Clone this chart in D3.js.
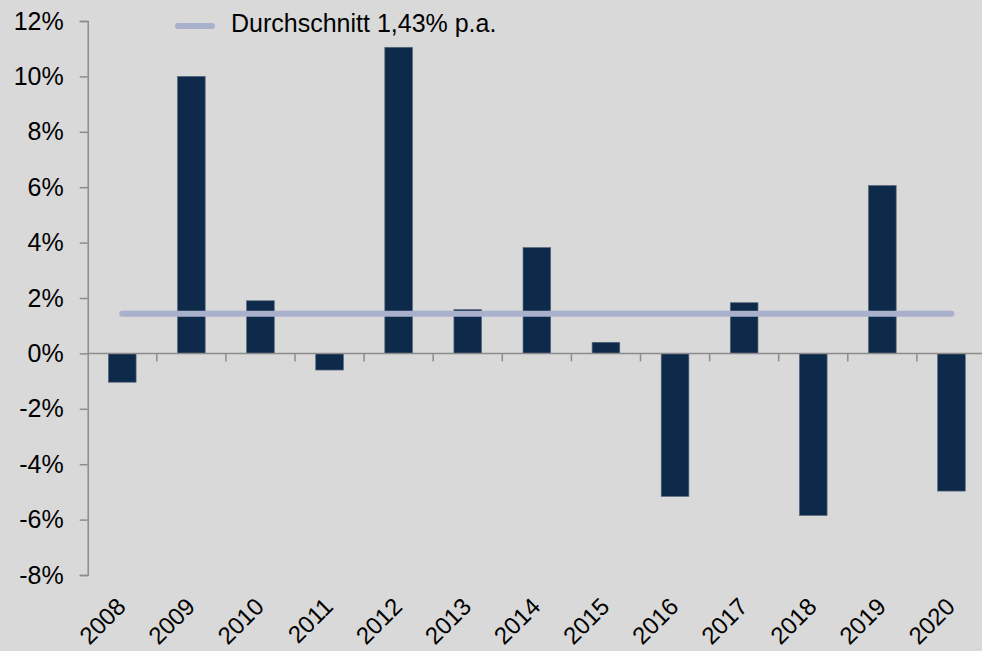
<!DOCTYPE html>
<html lang="de">
<head>
<meta charset="UTF-8">
<title>Rendite p.a.</title>
<script src="https://cdn.jsdelivr.net/npm/d3@7"></script>
<style>
  body { margin: 0; background: #d9d9d9; }
  svg { display: block; font-family: Arial, "Liberation Sans", sans-serif; }
</style>
</head>
<body>
<div id="chart"></div>
<script>
// Jahre und Renditen (in %)
var years = ["2008","2009","2010","2011","2012","2013","2014","2015","2016","2017","2018","2019","2020"];
var returns = [-1.04, 10.0, 1.9, -0.6, 11.05, 1.58, 3.82, 0.4, -5.16, 1.83, -5.85, 6.06, -4.97];
var average = 1.43;
var legendLabel = "Durchschnitt 1,43% p.a.";
var yTicks = [-8, -6, -4, -2, 0, 2, 4, 6, 8, 10, 12];

var W = 982, H = 651;
var barColor = "#0e2a4a", lineColor = "#a9b0cc", axisColor = "#8c8c8c";

var svg = d3.select("#chart").append("svg")
  .attr("width", W)
  .attr("height", H);

svg.append("rect").attr("width", W).attr("height", H).attr("fill", "#d9d9d9");

var x = d3.scaleBand()
  .domain(years)
  .range([87.7, 986])
  .paddingInner(0.6)
  .paddingOuter(0.3);

var y = d3.scaleLinear()
  .domain([-8, 12])
  .range([575, 21]);

// Balken
svg.append("g").selectAll("rect")
  .data(returns)
  .join("rect")
  .attr("x", function(d, i){ return x(years[i]); })
  .attr("y", function(d){ return y(Math.max(0, d)); })
  .attr("width", x.bandwidth())
  .attr("height", function(d){ return Math.abs(y(d) - y(0)); })
  .attr("fill", barColor)
  .attr("stroke", "#56667c")
  .attr("stroke-width", 0.7);

// y-Achse
var yAxis = d3.axisLeft(y)
  .tickValues(yTicks)
  .tickSize(8)
  .tickPadding(16)
  .tickFormat(function(d){ return d + "%"; });

var gy = svg.append("g")
  .attr("transform", "translate(87.7,0)")
  .call(yAxis);
gy.selectAll("path, line").attr("stroke", axisColor).attr("stroke-width", 1.5);
gy.selectAll("text").attr("font-size", 25).attr("fill", "#000");
gy.select(".domain").attr("fill", "none");

// Nulllinie mit Strichen zwischen den Jahren
var zero = svg.append("g");
zero.append("line")
  .attr("x1", 87.7).attr("x2", W)
  .attr("y1", y(0)).attr("y2", y(0))
  .attr("stroke", axisColor).attr("stroke-width", 1.5);
zero.selectAll("line.tick")
  .data(years.slice(1))
  .join("line")
  .attr("class", "tick")
  .attr("x1", function(d){ return x(d) - (x.step() - x.bandwidth()) / 2; })
  .attr("x2", function(d){ return x(d) - (x.step() - x.bandwidth()) / 2; })
  .attr("y1", y(0)).attr("y2", y(0) + 8)
  .attr("stroke", axisColor).attr("stroke-width", 1.5);

// Jahresbeschriftung unten
var gx = svg.append("g")
  .attr("transform", "translate(0," + y(-8) + ")")
  .call(d3.axisBottom(x).tickSize(0));
gx.select(".domain").remove();
gx.selectAll("text")
  .attr("font-size", 24)
  .attr("fill", "#000")
  .attr("text-anchor", "end")
  .attr("dy", null)
  .attr("y", null)
  .attr("transform", "translate(5,33) rotate(-45)");

// Durchschnittslinie
svg.append("line")
  .attr("x1", x(years[0]) + x.bandwidth() / 2)
  .attr("x2", x(years[years.length - 1]) + x.bandwidth() / 2)
  .attr("y1", y(average)).attr("y2", y(average))
  .attr("stroke", lineColor)
  .attr("stroke-width", 6)
  .attr("stroke-linecap", "round");

// Legende
var legend = svg.append("g").attr("transform", "translate(178,26)");
legend.append("line")
  .attr("x1", 0).attr("x2", 34)
  .attr("stroke", lineColor)
  .attr("stroke-width", 6)
  .attr("stroke-linecap", "round");
legend.append("text")
  .attr("x", 53).attr("y", 6)
  .attr("font-size", 25)
  .attr("fill", "#000")
  .text(legendLabel);
</script>
</body>
</html>
